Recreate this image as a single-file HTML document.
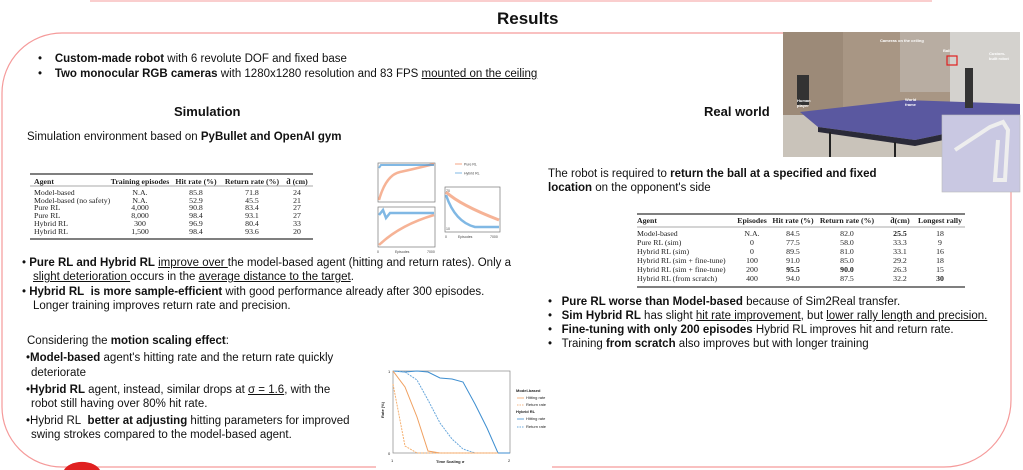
<!DOCTYPE html>
<html><head><meta charset="utf-8"><style>
*{margin:0;padding:0;box-sizing:border-box}
html,body{width:1023px;height:470px;overflow:hidden}
body{background:#fff;position:relative;font-family:"Liberation Sans",Arial,sans-serif;color:#111}
.a{position:absolute;white-space:nowrap}
.t{font-size:11.5px;line-height:14px}
u{text-decoration:underline}
</style></head><body>
<svg class="a" style="left:0;top:0" width="1023" height="470">
<line x1="90" y1="1" x2="932" y2="1" stroke="#f6b0b0" stroke-width="1.2"/>
<path d="M62 33 H1011 V400 A67 67 0 0 1 944 467 H62 A60 60 0 0 1 2 407 V93 A60 60 0 0 1 62 33 Z" fill="none" stroke="#f59a9a" stroke-width="1.2"/>
<rect x="376" y="460" width="176" height="10" fill="#fff"/>
<path d="M64 470 A19 12 0 0 1 100 470 Z" fill="#e02020"/>

<g font-family="Liberation Serif,serif" font-size="7.8" fill="#222">
<line x1="30" y1="174" x2="313" y2="174" stroke="#333" stroke-width="1.2"/>
<line x1="30" y1="186" x2="313" y2="186" stroke="#555" stroke-width="0.6"/>
<line x1="30" y1="239" x2="313" y2="239" stroke="#333" stroke-width="1.2"/>
<line x1="637" y1="214" x2="965" y2="214" stroke="#333" stroke-width="1.2"/>
<line x1="637" y1="227" x2="965" y2="227" stroke="#555" stroke-width="0.6"/>
<line x1="637" y1="287" x2="965" y2="287" stroke="#333" stroke-width="1.2"/>
<g font-weight="bold"><text x="34" y="184">Agent</text><text x="140" y="184" text-anchor="middle">Training episodes</text><text x="196" y="184" text-anchor="middle">Hit rate (%)</text><text x="252" y="184" text-anchor="middle">Return rate (%)</text><text x="297" y="184" text-anchor="middle">d̄ (cm)</text></g>
<text x="34" y="195">Model-based</text><text x="34" y="203">Model-based (no safety)</text><text x="34" y="210">Pure RL</text><text x="34" y="218">Pure RL</text><text x="34" y="226">Hybrid RL</text><text x="34" y="234">Hybrid RL</text>
<g text-anchor="middle">
<text x="140" y="195">N.A.</text><text x="140" y="203">N.A.</text><text x="140" y="210">4,000</text><text x="140" y="218">8,000</text><text x="140" y="226">300</text><text x="140" y="234">1,500</text>
<text x="196" y="195">85.8</text><text x="196" y="203">52.9</text><text x="196" y="210">90.8</text><text x="196" y="218">98.4</text><text x="196" y="226">96.9</text><text x="196" y="234">98.4</text>
<text x="252" y="195">71.8</text><text x="252" y="203">45.5</text><text x="252" y="210">83.4</text><text x="252" y="218">93.1</text><text x="252" y="226">80.4</text><text x="252" y="234">93.6</text>
<text x="297" y="195">24</text><text x="297" y="203">21</text><text x="297" y="210">27</text><text x="297" y="218">27</text><text x="297" y="226">33</text><text x="297" y="234">20</text>
</g>
<g font-weight="bold"><text x="637" y="223">Agent</text><text x="752" y="223" text-anchor="middle">Episodes</text><text x="793" y="223" text-anchor="middle">Hit rate (%)</text><text x="847" y="223" text-anchor="middle">Return rate (%)</text><text x="900" y="223" text-anchor="middle">d̄(cm)</text><text x="940" y="223" text-anchor="middle">Longest rally</text></g>
<text x="637" y="236">Model-based</text><text x="637" y="245">Pure RL (sim)</text><text x="637" y="254">Hybrid RL (sim)</text><text x="637" y="263">Hybrid RL (sim + fine-tune)</text><text x="637" y="272">Hybrid RL (sim + fine-tune)</text><text x="637" y="281">Hybrid RL (from scratch)</text>
<g text-anchor="middle">
<text x="752" y="236">N.A.</text><text x="752" y="245">0</text><text x="752" y="254">0</text><text x="752" y="263">100</text><text x="752" y="272">200</text><text x="752" y="281">400</text>
<text x="793" y="236">84.5</text><text x="793" y="245">77.5</text><text x="793" y="254">89.5</text><text x="793" y="263">91.0</text><text x="793" y="272" font-weight="bold">95.5</text><text x="793" y="281">94.0</text>
<text x="847" y="236">82.0</text><text x="847" y="245">58.0</text><text x="847" y="254">81.0</text><text x="847" y="263">85.0</text><text x="847" y="272" font-weight="bold">90.0</text><text x="847" y="281">87.5</text>
<text x="900" y="236" font-weight="bold">25.5</text><text x="900" y="245">33.3</text><text x="900" y="254">33.1</text><text x="900" y="263">29.2</text><text x="900" y="272">26.3</text><text x="900" y="281">32.2</text>
<text x="940" y="236">18</text><text x="940" y="245">9</text><text x="940" y="254">16</text><text x="940" y="263">18</text><text x="940" y="272">15</text><text x="940" y="281" font-weight="bold">30</text>
</g>
</g>

<g fill="none" stroke-width="0.7">
<rect x="378" y="163" width="57" height="39" stroke="#777"/>
<rect x="378" y="207" width="57" height="40" stroke="#777"/>
<rect x="445" y="187" width="55" height="45" stroke="#777"/>
<path d="M379 200 Q386 175 400 172 T434 164" stroke="#f08050" stroke-width="2.5" opacity=".6"/>
<path d="M379 168 L381 165 H434" stroke="#4a9ad8" stroke-width="2" opacity=".7"/>
<path d="M379 245 Q400 225 434 215" stroke="#f08050" stroke-width="2.5" opacity=".6"/>
<path d="M379 215 L383 210 L386 218 L390 213 H434" stroke="#4a9ad8" stroke-width="2.5" opacity=".7"/>
<path d="M446 192 Q460 205 499 220" stroke="#f08050" stroke-width="3" opacity=".6"/>
<path d="M446 195 Q455 222 475 227 H499" stroke="#4a9ad8" stroke-width="2.5" opacity=".7"/>
<line x1="455" y1="164" x2="462" y2="164" stroke="#f08050"/>
<line x1="455" y1="173" x2="462" y2="173" stroke="#4a9ad8"/>
</g>
<g font-size="3.5" fill="#444" font-family="Liberation Sans,sans-serif">
<text x="464" y="165.5">Pure RL</text><text x="464" y="174.5">Hybrid RL</text>
<text x="395" y="253">Episodes</text><text x="458" y="238">Episodes</text>
<text x="377" y="253">0</text><text x="427" y="253">7000</text><text x="445" y="238">0</text><text x="490" y="238">7000</text>
<text x="446" y="192">70</text><text x="446" y="230">10</text>
</g>

<rect x="393" y="371" width="117" height="82" fill="none" stroke="#888" stroke-width="0.7"/>
<g fill="none" stroke-width="1">
<polyline points="393,371 405,372 417,371 428,372 440,378 452,379 463,382 475,404 487,428 498,453 510,453" stroke="#3d8ed0"/>
<polyline points="393,371 405,372 417,380 428,400 440,423 452,439 463,449 475,453 487,453" stroke="#6aa8dc" stroke-dasharray="2,1"/>
<polyline points="393,371 405,387 417,417 428,451 440,453 498,453" stroke="#f0a060"/>
<polyline points="393,384 405,446 417,453 498,453" stroke="#f5b070" stroke-dasharray="2,1"/>
</g>
<g font-size="4" fill="#222" font-family="Liberation Sans,sans-serif">
<text x="388" y="373">1</text><text x="388" y="455">0</text><text x="391" y="462">1</text><text x="508" y="462">2</text>
<text x="436" y="463" font-weight="bold">Time Scaling σ</text>
<text x="384" y="418" font-weight="bold" transform="rotate(-90 384 418)">Rate (%)</text>
<text x="516" y="392" font-weight="bold">Model-based</text>
<text x="526" y="399">Hitting rate</text><text x="526" y="406">Return rate</text>
<text x="516" y="413" font-weight="bold">Hybrid RL</text>
<text x="526" y="420">Hitting rate</text><text x="526" y="428">Return rate</text>
</g>
<g stroke-width="0.8"><line x1="517" y1="398" x2="524" y2="398" stroke="#f0a060"/><line x1="517" y1="405" x2="524" y2="405" stroke="#f0a060" stroke-dasharray="1.5,1"/><line x1="517" y1="419" x2="524" y2="419" stroke="#3d8ed0"/><line x1="517" y1="427" x2="524" y2="427" stroke="#3d8ed0" stroke-dasharray="1.5,1"/></g>

<rect x="783" y="32" width="237" height="125" fill="#a89684"/>
<rect x="783" y="32" width="60" height="125" fill="#9c8a78"/>
<rect x="900" y="32" width="50" height="60" fill="#b8ada2"/>
<rect x="950" y="32" width="70" height="125" fill="#d4d2ce"/>
<rect x="783" y="115" width="237" height="42" fill="#c9c3ba"/>
<polygon points="800,112 905,100 1020,104 1020,118 915,140 818,127" fill="#5a58a0"/>
<polygon points="818,127 915,140 1020,118 1020,124 915,146 818,132" fill="#2a2a38"/>
<line x1="830" y1="132" x2="830" y2="157" stroke="#222" stroke-width="2"/>
<line x1="895" y1="142" x2="895" y2="157" stroke="#222" stroke-width="2"/>
<rect x="797" y="75" width="12" height="30" fill="#333"/>
<rect x="965" y="68" width="8" height="40" fill="#333"/>
<rect x="947" y="56" width="10" height="9" fill="none" stroke="#e02020" stroke-width="1.2"/>
<g font-size="4" fill="#fff" font-family="Liberation Sans,sans-serif" font-weight="bold">
<text x="880" y="42">Cameras on the ceiling</text><text x="943" y="52">Ball</text><text x="989" y="55">Custom-</text><text x="989" y="60">built robot</text>
<text x="797" y="102">Human</text><text x="797" y="107">player</text><text x="905" y="101">World</text><text x="905" y="106">frame</text>
</g>
<rect x="942" y="115" width="78" height="77" fill="#c9c8e2" stroke="#bbb" stroke-width="0.6"/>
<path d="M955 150 L990 127 L1003 122 L1008 130 L1005 180 L995 180 L998 140" fill="none" stroke="#eee" stroke-width="4"/>
</svg>

<div class="a" style="left:497px;top:9px;font-size:17px;font-weight:bold">Results</div>
<div class="a t" style="left:38px;top:52px">•&nbsp;&nbsp;&nbsp;&nbsp;<b>Custom-made robot</b> with 6 revolute DOF and fixed base</div>
<div class="a t" style="left:38px;top:67px">•&nbsp;&nbsp;&nbsp;&nbsp;<b>Two monocular RGB cameras</b> with 1280x1280 resolution and 83 FPS <u>mounted on the ceiling</u></div>
<div class="a" style="left:174px;top:104px;font-size:13px;font-weight:bold">Simulation</div>
<div class="a" style="left:704px;top:104px;font-size:13px;font-weight:bold">Real world</div>
<div class="a t" style="left:27px;top:130px">Simulation environment based on <b>PyBullet and OpenAI gym</b></div>

<div class="a t" style="left:548px;top:167px">The robot is required to <b>return the ball at a specified and fixed</b></div>
<div class="a t" style="left:548px;top:181px"><b>location</b> on the opponent's side</div>

<div class="a t" style="left:22px;top:256px">•&nbsp;<b>Pure RL and Hybrid RL</b> <u>improve over </u>the model-based agent (hitting and return rates). Only a</div>
<div class="a t" style="left:33px;top:270px"><u>slight deterioration </u>occurs in the <u>average distance to the target</u>.</div>
<div class="a t" style="left:22px;top:285px">•&nbsp;<b>Hybrid RL&nbsp; is more sample-efficient</b> with good performance already after 300 episodes.</div>
<div class="a t" style="left:33px;top:299px">Longer training improves return rate and precision.</div>
<div class="a t" style="left:27px;top:334px">Considering the <b>motion scaling effect</b>:</div>
<div class="a t" style="left:26px;top:351px">•<b>Model-based</b> agent's hitting rate and the return rate quickly</div>
<div class="a t" style="left:31px;top:366px">deteriorate</div>
<div class="a t" style="left:26px;top:383px">•<b>Hybrid RL</b> agent, instead, similar drops at <u>σ = 1.6</u>, with the</div>
<div class="a t" style="left:31px;top:397px">robot still having over 80% hit rate.</div>
<div class="a t" style="left:26px;top:414px">•Hybrid RL&nbsp; <b>better at adjusting</b> hitting parameters for improved</div>
<div class="a t" style="left:31px;top:428px">swing strokes compared to the model-based agent.</div>

<div class="a t" style="left:548px;top:295px">•&nbsp;&nbsp;&nbsp;<b>Pure RL worse than Model-based</b> because of Sim2Real transfer.</div>
<div class="a t" style="left:548px;top:309px">•&nbsp;&nbsp;&nbsp;<b>Sim Hybrid RL</b> has slight <u>hit rate improvement</u>, but <u>lower rally length and precision.</u></div>
<div class="a t" style="left:548px;top:323px">•&nbsp;&nbsp;&nbsp;<b>Fine-tuning with only 200 episodes</b> Hybrid RL improves hit and return rate.</div>
<div class="a t" style="left:548px;top:337px">•&nbsp;&nbsp;&nbsp;Training <b>from scratch</b> also improves but with longer training</div>
</body></html>
